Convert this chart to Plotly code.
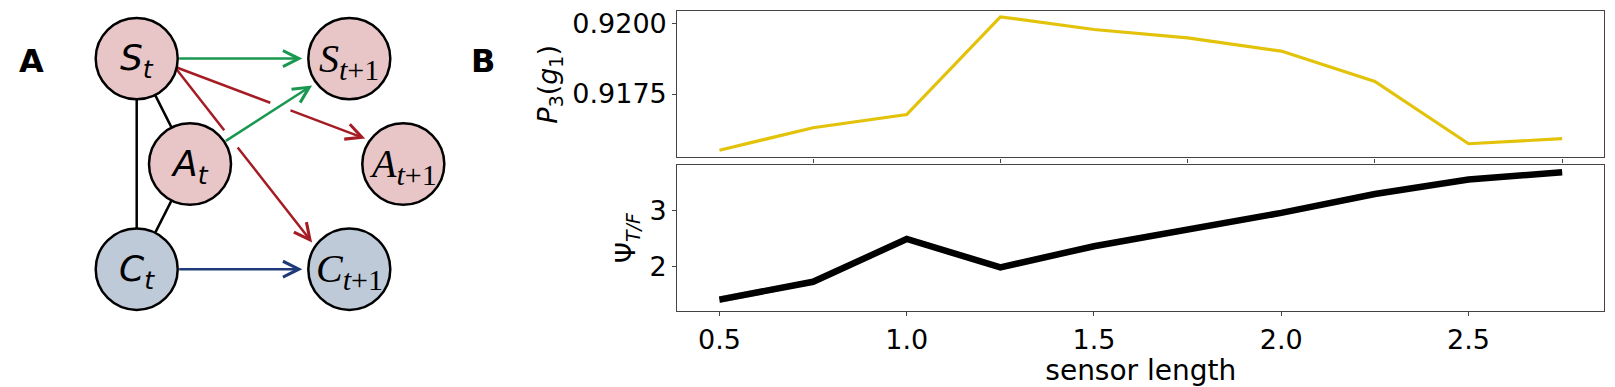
import math
import plotly.graph_objects as go

W, H = 1615, 387

# ---------------- data (panel B) ----------------
sensor_length = [0.5, 0.75, 1.0, 1.25, 1.5, 1.75, 2.0, 2.25, 2.5, 2.75]
p3_g1 = [0.91550, 0.91630, 0.91677, 0.92025, 0.91980, 0.91950, 0.91903, 0.91795, 0.91573, 0.91591]
psi_tf = [1.40, 1.72, 2.49, 1.98, 2.36, 2.66, 2.96, 3.30, 3.56, 3.69]
psi_tf_spread = [0.06, 0.05, 0.04, 0.03, 0.03, 0.02, 0.02, 0.02, 0.02, 0.02]

top_xticks = [0.75, 1.25, 1.75, 2.25, 2.75]
bottom_xticks = [0.5, 1.0, 1.5, 2.0, 2.5]
bottom_xticklabels = ["0.5", "1.0", "1.5", "2.0", "2.5"]
top_yticks = [0.9175, 0.9200]
top_yticklabels = ["0.9175", "0.9200"]
bottom_yticks = [2, 3]
bottom_yticklabels = ["2", "3"]

# ---------------- diagram (panel A) ----------------
PINK = "#e8c6c8"
BLUE = "#bfcad8"
GREEN = "#1a9850"
RED = "#a51c24"
NAVY = "#1f3a78"
SANS = "DejaVu Sans"
SERIF = "Liberation Serif"
R = 41

SUBT1 = "<sub><span style='font-size:30px'><i>t</i>+1</span></sub>"
nodes = {
    "St": (136.7, 56.0, PINK, "<i>S</i><sub><i>t</i></sub>", SANS, 36),
    "At": (190.0, 162.3, PINK, "<i>A</i><sub><i>t</i></sub>", SANS, 36),
    "Ct": (136.7, 268.3, BLUE, "<i>C</i><sub><i>t</i></sub>", SANS, 36),
    "St1": (349.3, 56.0, PINK, "<i>S</i>" + SUBT1, SERIF, 40),
    "At1": (403.3, 162.3, PINK, "<i>A</i>" + SUBT1, SERIF, 40),
    "Ct1": (349.3, 268.3, BLUE, "<i>C</i>" + SUBT1, SERIF, 40),
}
undirected = [("St", "Ct"), ("St", "At"), ("At", "Ct")]
# (source, source angle deg, target, target angle deg, target gap, color)
directed = [
    ("St", 0, "St1", 180, 6, GREEN),
    ("At", 33, "St1", 216, 5, GREEN),
    ("St", -12.7, "At1", 146, 5, RED),
    ("St", -15, "Ct1", 144, 5, RED),
    ("Ct", 0, "Ct1", 180, 6, NAVY),
]

fig = go.Figure()

# panel B top
fig.add_trace(go.Scatter(x=sensor_length, y=p3_g1, mode="lines",
                         line=dict(color="#e3c20a", width=3.2),
                         xaxis="x", yaxis="y", showlegend=False))
# panel B bottom: spread band + thick line
upper = [v + s for v, s in zip(psi_tf, psi_tf_spread)]
lower = [v - s for v, s in zip(psi_tf, psi_tf_spread)]
fig.add_trace(go.Scatter(x=sensor_length, y=upper, mode="lines", line=dict(width=0),
                         xaxis="x2", yaxis="y2", showlegend=False))
fig.add_trace(go.Scatter(x=sensor_length, y=lower, mode="lines", line=dict(width=0),
                         fill="tonexty", fillcolor="rgba(90,90,90,0.55)",
                         xaxis="x2", yaxis="y2", showlegend=False))
fig.add_trace(go.Scatter(x=sensor_length, y=psi_tf, mode="lines",
                         line=dict(color="black", width=6.5),
                         xaxis="x2", yaxis="y2", showlegend=False))

shapes = []
annotations = []


def pt(name, ang, extra=0.0):
    cx, cy = nodes[name][0], nodes[name][1]
    a = math.radians(ang)
    r = R + extra
    return (cx + r * math.cos(a), cy - r * math.sin(a))


def center_pt(a, b, which):
    ax_, ay_ = nodes[a][0], nodes[a][1]
    bx, by = nodes[b][0], nodes[b][1]
    d = math.hypot(bx - ax_, by - ay_)
    ux, uy = (bx - ax_) / d, (by - ay_) / d
    if which == 0:
        return (ax_ + ux * R, ay_ + uy * R)
    return (bx - ux * R, by - uy * R)


for a, b in undirected:
    p0 = center_pt(a, b, 0)
    p1 = center_pt(a, b, 1)
    shapes.append(dict(type="line", xref="x3", yref="y3", x0=p0[0], y0=p0[1],
                       x1=p1[0], y1=p1[1], line=dict(color="black", width=2.5)))

# the green A_t -> S_t+1 edge breaks the red edges it crosses
g = directed[1]
g0 = pt(g[0], g[1])
g1 = pt(g[2], g[3], g[4])


def intersect(p, q, r0, r1):
    dx1, dy1 = q[0] - p[0], q[1] - p[1]
    dx2, dy2 = r1[0] - r0[0], r1[1] - r0[1]
    den = dx1 * dy2 - dy1 * dx2
    s = ((r0[0] - p[0]) * dy2 - (r0[1] - p[1]) * dx2) / den
    return s


GAP = 10
for src, sa, dst, da, gap, col in directed:
    p0 = pt(src, sa)
    p1 = pt(dst, da, gap)
    start = p0
    if col == RED:
        s = intersect(p0, p1, (g0[0] - 40, g0[1] + 26), g1)
        L = math.hypot(p1[0] - p0[0], p1[1] - p0[1])
        ux, uy = (p1[0] - p0[0]) / L, (p1[1] - p0[1]) / L
        cx, cy = p0[0] + s * (p1[0] - p0[0]), p0[1] + s * (p1[1] - p0[1])
        e0 = (cx - ux * GAP, cy - uy * GAP)
        start = (cx + ux * GAP, cy + uy * GAP)
        shapes.append(dict(type="line", xref="x3", yref="y3", x0=p0[0], y0=p0[1],
                           x1=e0[0], y1=e0[1], line=dict(color=col, width=2.5)))
    annotations.append(dict(x=p1[0], y=p1[1], ax=start[0], ay=start[1],
                            xref="x3", yref="y3", axref="x3", ayref="y3",
                            text="", showarrow=True, arrowhead=5, arrowsize=1.25,
                            arrowwidth=2.5, arrowcolor=col, standoff=0, startstandoff=0))

for name, (cx, cy, fill, label, fam, fs) in nodes.items():
    shapes.append(dict(type="circle", xref="x3", yref="y3",
                       x0=cx - R, x1=cx + R, y0=cy - R, y1=cy + R,
                       fillcolor=fill, line=dict(color="black", width=2.5), layer="above"))
    annotations.append(dict(x=cx, y=cy + 2, xref="x3", yref="y3", text=label,
                            xanchor="center", yanchor="middle",
                            showarrow=False, font=dict(family=fam, size=fs, color="black")))

# panel letters
annotations.append(dict(x=31 / W, y=1 - 58 / H, xref="paper", yref="paper", text="<b>A</b>",
                        xanchor="center", yanchor="middle",
                        showarrow=False, font=dict(family=SANS, size=32, color="black")))
annotations.append(dict(x=483 / W, y=1 - 58 / H, xref="paper", yref="paper", text="<b>B</b>",
                        xanchor="center", yanchor="middle",
                        showarrow=False, font=dict(family=SANS, size=32, color="black")))

xdom = [677.3 / W, 1604.3 / W]
xr = [0.3875, 2.8625]
axis_common = dict(showline=True, mirror=True, linecolor="#444", linewidth=1.2,
                   ticks="outside", ticklen=4, tickwidth=1, tickcolor="#444",
                   showgrid=False, zeroline=False,
                   tickfont=dict(family=SANS, size=27, color="black"))

fig.update_layout(
    width=W, height=H, autosize=False,
    margin=dict(l=0, r=0, t=0, b=0),
    paper_bgcolor="white", plot_bgcolor="white",
    showlegend=False,
    shapes=shapes, annotations=annotations,
    xaxis=dict(domain=xdom, range=xr, anchor="y", tickvals=top_xticks,
               showticklabels=False, **axis_common),
    yaxis=dict(domain=[1 - 155.7 / H, 1 - 8.3 / H], range=[0.91524, 0.92045], anchor="x",
               tickvals=top_yticks, ticktext=top_yticklabels,
               title=dict(text="<i>P</i><sub>3</sub>(<i>g</i><sub>1</sub>)", standoff=6,
                          font=dict(family=SANS, size=27, color="black")),
               **axis_common),
    xaxis2=dict(domain=xdom, range=xr, anchor="y2", tickvals=bottom_xticks,
                ticktext=bottom_xticklabels,
                title=dict(text="sensor length", standoff=4,
                           font=dict(family=SANS, size=28, color="black")),
                **axis_common),
    yaxis2=dict(domain=[1 - 310.7 / H, 1 - 163.3 / H], range=[1.19, 3.82], anchor="x2",
                tickvals=bottom_yticks, ticktext=bottom_yticklabels,
                title=dict(text="Ψ<sub><i>T/F</i></sub>", standoff=6,
                           font=dict(family=SANS, size=27, color="black")),
                **axis_common),
    xaxis3=dict(domain=[0, 470 / W], range=[0, 470], visible=False, fixedrange=True, anchor="y3"),
    yaxis3=dict(domain=[0, 1], range=[H, 0], visible=False, fixedrange=True, anchor="x3"),
)

fig.write_html("out.html", config={"displayModeBar": False},
               post_script="document.body.style.margin='0px';")
